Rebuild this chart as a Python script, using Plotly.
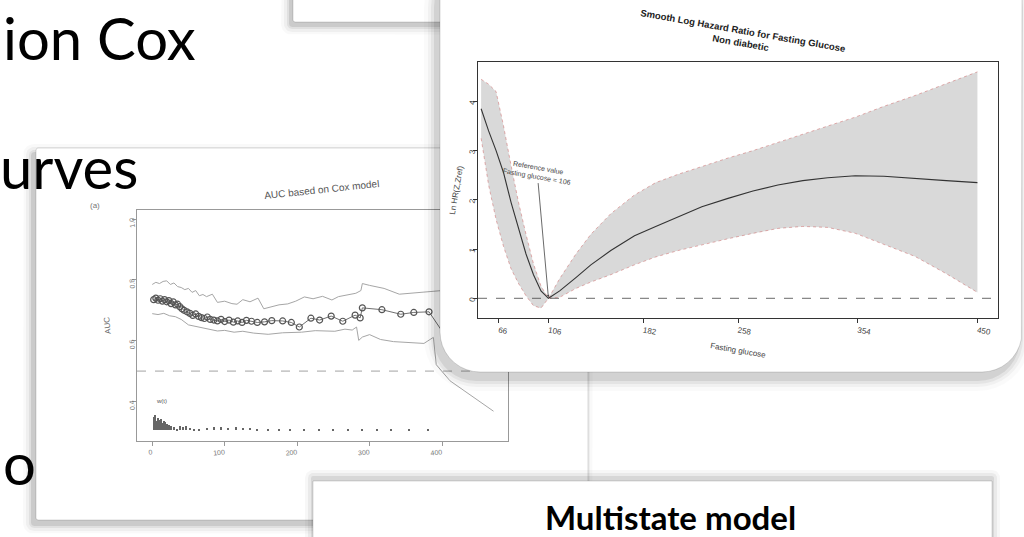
import numpy as np
import plotly.graph_objects as go

W, H = 1024, 537

# ---------------- AUC chart (left card) ----------------
auc_t = [2, 5, 8, 11, 14, 17, 20, 23, 26, 29, 32, 35, 38, 41, 44, 48, 52, 56, 60, 64,
         68, 72, 76, 80, 85, 90, 95, 100, 106, 112, 118, 124, 130, 137, 145, 155, 165,
         180, 192, 203, 219, 231, 247, 263, 280, 287, 290, 317, 343, 361, 382, 412, 472]
auc_v = [0.735, 0.74, 0.733, 0.738, 0.73, 0.735, 0.728, 0.732, 0.722, 0.728, 0.718, 0.72,
         0.712, 0.705, 0.70, 0.695, 0.69, 0.683, 0.688, 0.68, 0.676, 0.673, 0.678, 0.67,
         0.668, 0.665, 0.67, 0.663, 0.668, 0.661, 0.665, 0.66, 0.667, 0.664, 0.66, 0.662,
         0.666, 0.665, 0.66, 0.645, 0.674, 0.668, 0.681, 0.664, 0.684, 0.675, 0.708, 0.702,
         0.687, 0.693, 0.695, 0.589, 0.53]
auc_up_t = [0, 5, 10, 15, 20, 25, 30, 35, 40, 45, 50, 55, 60, 65, 70, 75, 83, 90, 100, 110,
            117, 125, 135, 146, 154, 165, 175, 187, 198, 210, 222, 235, 248, 257, 268, 281,
            288, 290, 300, 320, 341, 360, 382, 400]
auc_up_v = [0.785, 0.792, 0.788, 0.795, 0.797, 0.785, 0.79, 0.778, 0.775, 0.768, 0.772,
            0.759, 0.765, 0.748, 0.752, 0.745, 0.753, 0.726, 0.73, 0.722, 0.72, 0.735, 0.728,
            0.74, 0.705, 0.712, 0.718, 0.721, 0.73, 0.744, 0.738, 0.746, 0.734, 0.745, 0.75,
            0.756, 0.765, 0.788, 0.782, 0.772, 0.753, 0.757, 0.76, 0.765]
auc_lo_t = [0, 8, 16, 24, 32, 40, 50, 58, 68, 78, 90, 100, 113, 125, 140, 160, 180, 206, 225,
            252, 266, 276, 282, 285, 290, 300, 315, 333, 355, 375, 388, 390, 392, 411, 471]
auc_lo_v = [0.689, 0.686, 0.69, 0.682, 0.679, 0.67, 0.652, 0.648, 0.641, 0.636, 0.632, 0.634,
            0.628, 0.631, 0.625, 0.621, 0.626, 0.628, 0.633, 0.631, 0.638, 0.635, 0.645, 0.601,
            0.612, 0.62, 0.604, 0.597, 0.595, 0.591, 0.611, 0.56, 0.521, 0.468, 0.368]
w_t = [2, 4, 6, 8, 10, 12, 14, 16, 18, 20, 23, 26, 30, 34, 38, 42, 47, 52, 58, 65, 75, 85,
       95, 105, 115, 125, 135, 145, 160, 175, 190, 210, 230, 250, 270, 290, 310, 330, 355, 380]
w_h = [0.045, 0.05, 0.03, 0.04, 0.035, 0.038, 0.025, 0.03, 0.028, 0.022, 0.018, 0.015, 0.01,
       0.006, 0.014, 0.012, 0.016, 0.008, 0.004, 0.005, 0.009, 0.01, 0.012, 0.009, 0.01, 0.008,
       0.007, 0.006, 0.005, 0.004, 0.004, 0.003, 0.003, 0.002, 0.003, 0.002, 0.002, 0.002,
       0.002, 0.003]
W_BASE = 0.305
AUC_REF = 0.5
auc_xticks = [0, 100, 200, 300, 400]
auc_yticks = [0.4, 0.6, 0.8, 1.0]
AUC_XRANGE = [-21, 491]
AUC_YRANGE = [0.27, 1.03]

# ---------------- Log hazard ratio chart (right card) ----------------
glu = [52, 58, 64, 70, 76, 82, 88, 94, 100, 106, 115, 128, 140, 156, 175, 192, 210, 229,
       250, 270, 290, 310, 330, 352, 375, 400, 425, 450]
hr_up = [4.45, 4.35, 4.2, 3.5, 2.7, 1.95, 1.3, 0.7, 0.25, 0.0, 0.4, 0.9, 1.3, 1.72, 2.1,
         2.35, 2.52, 2.68, 2.85, 3.0, 3.17, 3.33, 3.5, 3.68, 3.9, 4.12, 4.36, 4.6]
hr_mid = [3.85, 3.4, 3.0, 2.55, 1.95, 1.4, 0.9, 0.48, 0.15, 0.0, 0.15, 0.42, 0.68, 0.97,
          1.27, 1.46, 1.66, 1.86, 2.03, 2.18, 2.3, 2.39, 2.45, 2.49, 2.48, 2.43, 2.39, 2.35]
hr_lo = [3.25, 2.3, 1.6, 1.05, 0.6, 0.3, 0.05, -0.15, -0.2, 0.0, 0.02, 0.2, 0.33, 0.48,
         0.68, 0.84, 0.97, 1.09, 1.21, 1.32, 1.42, 1.46, 1.44, 1.32, 1.1, 0.85, 0.5, 0.12]
glu_ticks = [66, 106, 182, 258, 354, 450]
hr_ticks = [0, 1, 2, 3, 4]
REF_GLU = 106
GLU_RANGE = [49.5, 466.5]
HR_RANGE = [-0.4, 4.8]

# ---------------- helpers (layout geometry, pixel space) ----------------
def dom_x(a, b):
    return [a / W, b / W]


def dom_y(top, bottom):
    return [1 - bottom / H, 1 - top / H]


def rrect(x0, y0, x1, y1, r, n=10):
    r = max(0.0, min(r, (x1 - x0) / 2, (y1 - y0) / 2))
    xs, ys = [], []
    corners = [(x1 - r, y0 + r, -np.pi / 2, 0), (x1 - r, y1 - r, 0, np.pi / 2),
               (x0 + r, y1 - r, np.pi / 2, np.pi), (x0 + r, y0 + r, np.pi, 1.5 * np.pi)]
    for cx, cy, a0, a1 in corners:
        for a in np.linspace(a0, a1, n):
            xs.append(cx + r * np.cos(a))
            ys.append(cy + r * np.sin(a))
    xs.append(xs[0])
    ys.append(ys[0])
    return xs, ys


def card(fig, ax, box, r, off, layers, edge='rgba(0,0,0,0.18)'):
    x0, y0, x1, y1 = box
    dx, dy = off
    for grow, alpha in layers:
        xs, ys = rrect(x0 - grow + dx, y0 - grow + dy, x1 + grow + dx, y1 + grow + dy, r + grow)
        fig.add_trace(go.Scatter(x=xs, y=ys, mode='lines', fill='toself',
                                 fillcolor=f'rgba(0,0,0,{alpha})', line=dict(width=0),
                                 xaxis='x' + ax, yaxis='y' + ax, hoverinfo='skip',
                                 showlegend=False))
    xs, ys = rrect(x0, y0, x1, y1, r)
    fig.add_trace(go.Scatter(x=xs, y=ys, mode='lines', fill='toself', fillcolor='white',
                             line=dict(width=0.8, color=edge), xaxis='x' + ax, yaxis='y' + ax,
                             hoverinfo='skip', showlegend=False))


SHADOW = [(9, 0.025), (6, 0.04), (3, 0.06), (1, 0.09)]

fig = go.Figure()

# layer 1 (xy): back panel at top + left card
card(fig, '', (293, -60, 575, 22), 2, (-3, 4), SHADOW)
card(fig, '', (36, 148, 588, 520), 2, (-4, 5), SHADOW)

# layer 2 (x2y2): AUC chart
fig.add_trace(go.Bar(x=w_t, y=w_h, base=W_BASE, width=1.4,
                     marker=dict(color='#666', line=dict(width=0)),
                     xaxis='x2', yaxis='y2', hoverinfo='skip', showlegend=False))
fig.add_trace(go.Scatter(x=AUC_XRANGE, y=[AUC_REF, AUC_REF], mode='lines',
                         line=dict(color='#8a8a8a', width=0.8, dash='dash'),
                         xaxis='x2', yaxis='y2', hoverinfo='skip', showlegend=False))
fig.add_trace(go.Scatter(x=auc_up_t, y=auc_up_v, mode='lines', line=dict(color='#a6a6a6', width=1),
                         xaxis='x2', yaxis='y2', showlegend=False))
fig.add_trace(go.Scatter(x=auc_lo_t, y=auc_lo_v, mode='lines', line=dict(color='#a6a6a6', width=1),
                         xaxis='x2', yaxis='y2', showlegend=False))
fig.add_trace(go.Scatter(x=auc_t, y=auc_v, mode='lines+markers',
                         line=dict(color='#707070', width=1),
                         marker=dict(symbol='circle-open', size=6, color='#555',
                                     line=dict(width=1.2, color='#555')),
                         xaxis='x2', yaxis='y2', showlegend=False))

# layer 3 (x3y3): right card
card(fig, '3', (440, -40, 1022, 372), 40, (-4, 7), [(12, 0.02), (8, 0.035), (5, 0.05), (2, 0.08)])

# layer 4 (x4y4): hazard ratio chart
fig.add_trace(go.Scatter(x=glu + glu[::-1], y=hr_up + hr_lo[::-1], mode='lines', fill='toself',
                         fillcolor='#d9d9d9', line=dict(width=0), xaxis='x4', yaxis='y4',
                         hoverinfo='skip', showlegend=False))
for band in (hr_up, hr_lo):
    fig.add_trace(go.Scatter(x=glu, y=band, mode='lines',
                             line=dict(color='rgba(200,80,80,0.55)', width=0.8, dash='dot'),
                             xaxis='x4', yaxis='y4', showlegend=False))
fig.add_trace(go.Scatter(x=GLU_RANGE, y=[0, 0], mode='lines',
                         line=dict(color='#444', width=0.8, dash='dash'),
                         xaxis='x4', yaxis='y4', hoverinfo='skip', showlegend=False))
fig.add_trace(go.Scatter(x=glu, y=hr_mid, mode='lines', line=dict(color='#333', width=1.1),
                         xaxis='x4', yaxis='y4', showlegend=False))

# layer 5 (x5y5): bottom "Multistate model" box
card(fig, '5', (313, 481, 992, 600), 0, (0, -3), [(8, 0.03), (5, 0.05), (2, 0.08)])

# ---------------- axes ----------------
hidden_x = dict(domain=[0, 1], range=[0, W], visible=False, fixedrange=True)
hidden_y = dict(domain=[0, 1], range=[H, 0], visible=False, fixedrange=True)

rfont = 'Liberation Sans, Arial, sans-serif'
fig.update_layout(
    width=W, height=H, margin=dict(l=0, r=0, t=0, b=0),
    paper_bgcolor='white', plot_bgcolor='rgba(0,0,0,0)', showlegend=False,
    bargap=0,
    xaxis=dict(hidden_x, anchor='y'), yaxis=dict(hidden_y, anchor='x'),
    xaxis3=dict(hidden_x, anchor='y3'), yaxis3=dict(hidden_y, anchor='x3'),
    xaxis5=dict(hidden_x, anchor='y5'), yaxis5=dict(hidden_y, anchor='x5'),
    xaxis2=dict(domain=dom_x(137, 508), range=AUC_XRANGE, anchor='y2', tickvals=auc_xticks,
                ticks='outside', ticklen=4, tickcolor='#999', showline=True, linecolor='#999',
                linewidth=1, mirror=True, showgrid=False, zeroline=False, tickangle=-6,
                tickfont=dict(family=rfont, size=7, color='#777')),
    yaxis2=dict(domain=dom_y(210, 441), range=AUC_YRANGE, anchor='x2', tickvals=auc_yticks,
                tickformat='.1f', ticks='outside', ticklen=4, tickcolor='#999', showline=True,
                linecolor='#999', linewidth=1, mirror=True, showgrid=False, zeroline=False,
                tickangle=-96, tickfont=dict(family=rfont, size=7, color='#777')),
    xaxis4=dict(domain=dom_x(478, 998), range=GLU_RANGE, anchor='y4', tickvals=glu_ticks,
                ticks='outside', ticklen=4, tickcolor='#333', showline=True, linecolor='#333',
                linewidth=1, mirror=True, showgrid=False, zeroline=False, tickangle=10,
                tickfont=dict(family=rfont, size=8, color='#444')),
    yaxis4=dict(domain=dom_y(62, 318), range=HR_RANGE, anchor='x4', tickvals=hr_ticks,
                ticks='outside', ticklen=4, tickcolor='#333', showline=True, linecolor='#333',
                linewidth=1, mirror=True, showgrid=False, zeroline=False, tickangle=-80,
                tickfont=dict(family=rfont, size=8, color='#444')),
)

# ---------------- texts ----------------
big = 'Lato, Noto Sans, sans-serif'
ann = []


def ptext(x, y, text, size, color='black', family=big, xanchor='left', yanchor='middle',
          angle=0, bold=False):
    t = f'<b>{text}</b>' if bold else text
    ann.append(dict(xref='paper', yref='paper', x=x / W, y=1 - y / H, text=t, showarrow=False,
                    xanchor=xanchor, yanchor=yanchor, textangle=angle,
                    font=dict(family=family, size=size, color=color)))


ptext(1, 1, 'ion Cox', 58, yanchor='top')
ptext(-2, 166, 'urves', 58)
ptext(1, 462, 'o', 58)

ptext(95, 206, '(a)', 8, color='#777', family=rfont, xanchor='center')
ptext(322, 190, 'AUC based on Cox model', 10, color='#555', family=rfont, xanchor='center', angle=-6)
ptext(107, 326, 'AUC', 8, color='#666', family=rfont, xanchor='center', angle=-96)

ptext(742, 36, 'Smooth Log Hazard Ratio for Fasting Glucose<br>Non diabetic', 9.5, color='#222',
      family=rfont, xanchor='center', angle=10, bold=True)
ptext(457, 190, 'Ln HR(Z,Zref)', 8, color='#444', family=rfont, xanchor='center', angle=-80)
ptext(738, 350, 'Fasting glucose', 8, color='#444', family=rfont, xanchor='center', angle=10)

ptext(670, 517, 'Multistate model', 33, color='black', family=big, xanchor='center', bold=True)

ann.append(dict(xref='x2', yref='y2', x=2, y=0.40, text='w(t)', showarrow=False, xanchor='left',
                font=dict(family=rfont, size=6, color='#555')))
ann.append(dict(xref='x4', yref='y4', x=REF_GLU, y=0, axref='x4', ayref='y4', ax=97, ay=2.55,
                text='Reference value<br>Fasting glucose = 106', showarrow=True, arrowhead=2,
                arrowsize=0.6, arrowwidth=0.8, arrowcolor='#444', standoff=1,
                font=dict(family=rfont, size=7, color='#444'), textangle=10))
fig.update_layout(annotations=ann)

fig.write_html('out.html', config={'displayModeBar': False},
               post_script="document.body.style.margin='0';document.body.style.overflow='hidden';")
